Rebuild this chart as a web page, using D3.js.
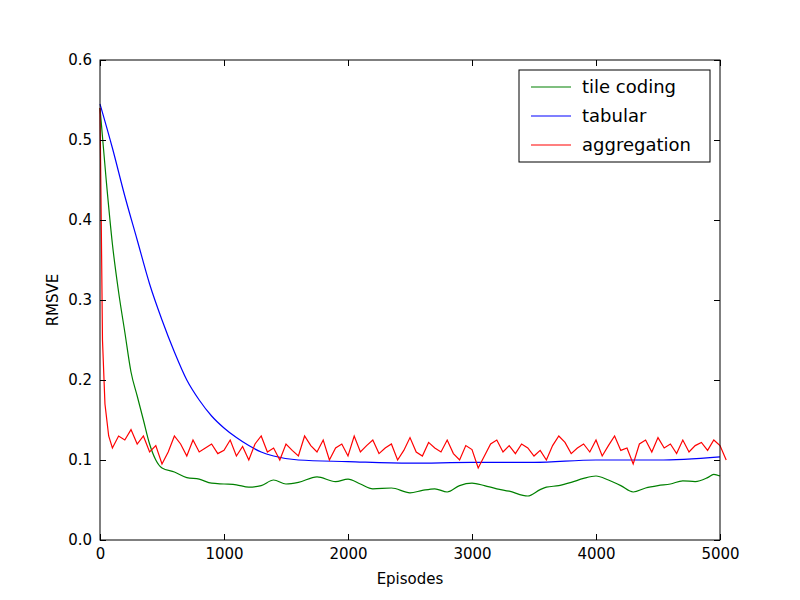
<!DOCTYPE html>
<html><head><meta charset="utf-8">
<script src="https://cdn.jsdelivr.net/npm/d3@7"></script>
<style>body{margin:0;background:#fff}text{font-family:"DejaVu Sans",sans-serif}</style>
</head><body>
<svg id="c" width="800" height="600"></svg>
<script>
var tileEp = [0,50,100,150,200,250,300,350,400,450,500,600,700,800,900,1000,1100,1200,1300,1400,1500,1600,1750,1900,2000,2100,2200,2350,2500,2600,2700,2800,2900,3000,3100,3200,3300,3450,3550,3600,3700,3800,3900,4000,4100,4200,4300,4400,4500,4600,4700,4800,4900,4950,5000];
var tileVal = [0.54,0.45,0.37,0.31,0.26,0.21,0.18,0.15,0.12,0.1,0.09,0.085,0.078,0.076,0.071,0.07,0.069,0.066,0.068,0.075,0.07,0.072,0.079,0.073,0.076,0.07,0.064,0.065,0.059,0.062,0.064,0.06,0.068,0.071,0.068,0.064,0.061,0.055,0.063,0.066,0.068,0.072,0.077,0.08,0.075,0.068,0.06,0.065,0.068,0.07,0.074,0.073,0.078,0.082,0.08];
var tabEp = [0,100,200,300,400,500,600,700,800,900,1000,1100,1200,1300,1400,1600,2000,2500,3000,3500,4000,4500,5000];
var tabVal = [0.545,0.49,0.43,0.375,0.32,0.275,0.235,0.2,0.175,0.155,0.14,0.128,0.118,0.11,0.105,0.1,0.098,0.096,0.097,0.097,0.1,0.1,0.104];
var aggEp = [0,10,20,40,70,100];
var aggHead = [0.54,0.4,0.25,0.17,0.13,0.115];
var aggTail = [0.13,0.125,0.138,0.12,0.13,0.11,0.118,0.095,0.11,0.13,0.12,0.105,0.125,0.11,0.115,0.12,0.108,0.112,0.125,0.105,0.117,0.1,0.12,0.13,0.11,0.115,0.1,0.12,0.112,0.105,0.13,0.118,0.11,0.125,0.1,0.115,0.12,0.105,0.13,0.11,0.118,0.125,0.108,0.115,0.12,0.1,0.112,0.128,0.11,0.105,0.122,0.115,0.11,0.125,0.108,0.1,0.118,0.113,0.09,0.105,0.12,0.125,0.11,0.118,0.108,0.12,0.115,0.105,0.112,0.1,0.118,0.13,0.122,0.108,0.115,0.12,0.11,0.125,0.105,0.118,0.13,0.112,0.115,0.095,0.12,0.125,0.11,0.128,0.115,0.12,0.108,0.125,0.11,0.118,0.122,0.112,0.125,0.118,0.1];
var xTicks = [0,1000,2000,3000,4000,5000];
var yTicks = [0,0.1,0.2,0.3,0.4,0.5,0.6];

var aggData = aggEp.map(function(e,i){return [e,aggHead[i]];})
  .concat(aggTail.map(function(v,i){return [150+i*50,v];}));
var series = [
  {name:'tile coding', color:'#008000', data:tileEp.map(function(e,i){return [e,tileVal[i]];}), curve:d3.curveMonotoneX},
  {name:'tabular', color:'#0000ff', data:tabEp.map(function(e,i){return [e,tabVal[i]];}), curve:d3.curveMonotoneX},
  {name:'aggregation', color:'#ff0000', data:aggData, curve:d3.curveLinear}
];

var L=100,R=720,T=60,B=540;
var svg = d3.select('#c');
var x = d3.scaleLinear().domain([0,5000]).range([L,R]);
var y = d3.scaleLinear().domain([0,0.6]).range([B,T]);

series.forEach(function(s){
  var line = d3.line().curve(s.curve).x(function(d){return x(d[0]);}).y(function(d){return y(d[1]);});
  svg.append('path').datum(s.data).attr('d',line).attr('fill','none')
    .attr('stroke',s.color).attr('stroke-width',1.2);
});

function ax(g,a){g.call(a);g.select('.domain').remove();g.selectAll('text').attr('font-size',15).attr('fill','#000');g.selectAll('line').attr('stroke','#000');}
svg.append('g').attr('transform','translate(0,'+B+')').call(function(g){ax(g,d3.axisBottom(x).tickValues(xTicks).tickSize(-6).tickPadding(8).tickFormat(d3.format('d')));});
svg.append('g').attr('transform','translate(0,'+T+')').call(function(g){ax(g,d3.axisTop(x).tickValues(xTicks).tickSize(-6).tickFormat(''));});
svg.append('g').attr('transform','translate('+L+',0)').call(function(g){ax(g,d3.axisLeft(y).tickValues(yTicks).tickSize(-6).tickPadding(8).tickFormat(d3.format('.1f')));});
svg.append('g').attr('transform','translate('+R+',0)').call(function(g){ax(g,d3.axisRight(y).tickValues(yTicks).tickSize(-6).tickFormat(''));});
svg.append('rect').attr('x',L).attr('y',T).attr('width',R-L).attr('height',B-T).attr('fill','none').attr('stroke','#000');

svg.append('text').attr('x',(L+R)/2).attr('y',584).attr('text-anchor','middle').attr('font-size',15).text('Episodes');
svg.append('text').attr('transform','translate(58,'+(T+B)/2+') rotate(-90)').attr('text-anchor','middle').attr('font-size',15).text('RMSVE');

var lg = svg.append('g').attr('transform','translate(519,70)');
lg.append('rect').attr('width',191).attr('height',92).attr('fill','#fff').attr('stroke','#000');
series.forEach(function(s,i){
  var yy = 17+i*29;
  lg.append('line').attr('x1',12).attr('x2',52).attr('y1',yy).attr('y2',yy).attr('stroke',s.color).attr('stroke-width',1.2);
  lg.append('text').attr('x',63).attr('y',yy+6).attr('font-size',18).text(s.name);
});
</script>
</body></html>
